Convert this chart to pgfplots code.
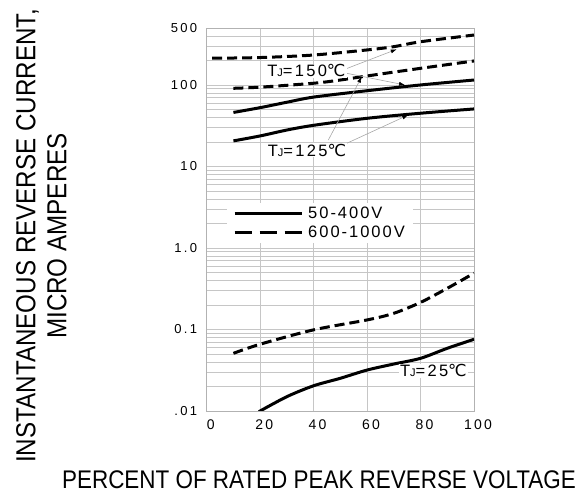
\documentclass[border=0pt]{standalone}
\usepackage{fontspec}
\setmainfont{Liberation Sans}
\newfontfamily\lblfont[FakeStretch=0.88]{Liberation Sans}
\newfontfamily\dvfont{DejaVu Sans}
\usepackage{pgfplots}
\pgfplotsset{compat=1.18}
\usetikzlibrary{arrows.meta}
\newcommand{\degC}{{\dvfont ℃}}
\newcommand{\TJ}{T{\fontsize{11}{11}\selectfont J}}
\tikzset{
  solidc/.style={black,line width=3pt,smooth},
  dashc/.style={black,line width=3pt,smooth,dash pattern=on 10pt off 5pt},
  annot/.style={gray!70,line width=0.6pt,-{Latex[length=6pt,width=4pt,black]}},
  tjlabel/.style={fill=white,inner sep=1pt,font=\fontsize{16.5}{16.5}\selectfont\addfontfeatures{LetterSpace=14}}
}
\begin{document}
\begin{tikzpicture}
\path[use as bounding box] (-206.7pt,-83pt) rectangle (379.3pt,411pt);
\begin{axis}[
  scale only axis, width=267.3pt, height=383pt,
  ymode=log, xmin=0, xmax=100, ymin=0.01, ymax=500,
  xtick={0,20,40,60,80,100},
  ytick={0.01,0.1,1,10,100,500},
  yticklabels={.01,0.1,1.0,10,100,500},
  minor ytick={0.02,0.03,0.04,0.05,0.06,0.07,0.08,0.09,
    0.2,0.3,0.4,0.5,0.6,0.7,0.8,0.9,2,3,4,5,6,7,8,9,
    20,30,40,50,60,70,80,90,200,300,400},
  grid=both, grid style={gray!45,line width=0.5pt},
  minor grid style={gray!45,line width=0.5pt},
  axis line style={gray!60,line width=0.6pt},
  major tick length=0pt, minor tick length=0pt,
  /pgf/number format/assume math mode=true,
  yticklabel shift=6pt, xticklabel shift=5pt,
  xticklabel style={font=\fontsize{14}{14}\selectfont\addfontfeatures{LetterSpace=16},xshift=4pt},
  yticklabel style={font=\fontsize{13}{13}\selectfont\addfontfeatures{LetterSpace=18}},
  legend style={at={(rel axis cs:0.076,0.543)},anchor=north west,draw=none,fill=white,
    font=\fontsize{16.5}{16.5}\selectfont\addfontfeatures{LetterSpace=12},
    inner xsep=6pt,inner ysep=2pt,row sep=2pt,column sep=3pt},
  legend cell align=left,
  legend image code/.code={\draw[#1] (0pt,0pt) -- (67pt,0pt);},
]
\addlegendimage{solidc}
\addlegendentry{50-400V}
\addlegendimage{dashc,dash pattern=on 17pt off 8pt}
\addlegendentry{600-1000V}
% T_J = 150 C, 50-400V
\addplot[solidc,forget plot] coordinates {(10,46) (20,52.7) (30,61.4) (40,71) (60,85) (80,100) (100,115)};
% T_J = 150 C, 600-1000V
\addplot[dashc,forget plot] coordinates {(2,213) (20,217) (40,233) (60,269) (70,295) (80,339) (100,410)};
% T_J = 125 C, 50-400V
\addplot[solidc,forget plot] coordinates {(10,20.6) (20,23.7) (30,28) (40,32) (60,39) (80,45) (100,50.8)};
% T_J = 125 C, 600-1000V
\addplot[dashc,forget plot] coordinates {(10,91) (20,94) (40,105) (50,115) (60,129) (80,160) (100,197)};
% T_J = 25 C, 50-400V
\addplot[solidc,forget plot] coordinates {(19.5,0.0098) (30,0.015) (40,0.0204) (50,0.0252) (60,0.0318) (70,0.0377) (80,0.0443) (90,0.0588) (100,0.0759)};
% T_J = 25 C, 600-1000V
\addplot[dashc,forget plot] coordinates {(10,0.051) (20,0.066) (40,0.099) (60,0.131) (70,0.158) (80,0.215) (90,0.32) (100,0.49)};

\draw[annot] (axis cs:51,152.8) -- (axis cs:71.1,274);
\draw[annot] (axis cs:52.4,139) -- (axis cs:74.2,100);
\draw[annot] (axis cs:45.5,21.1) -- (axis cs:58,126);
\draw[annot] (axis cs:51.1,18.4) -- (axis cs:75.4,42.8);
\node[tjlabel] at (axis cs:37.3,149) {\TJ=150\degC};
\node[tjlabel] at (axis cs:37.5,15.9) {\TJ=125\degC};
\node[tjlabel] at (axis cs:84.8,0.031) {\TJ=25\degC};
\end{axis}
\node[rotate=90,align=center,font=\lblfont\fontsize{27.5}{31}\selectfont] at (-165.2pt,175pt)
  {INSTANTANEOUS REVERSE CURRENT,\\MICRO AMPERES};
\node[anchor=base,font=\lblfont\fontsize{25.5}{28}\selectfont] at (112.3pt,-78pt)
  {PERCENT OF RATED PEAK REVERSE VOLTAGE};
\end{tikzpicture}
\end{document}
